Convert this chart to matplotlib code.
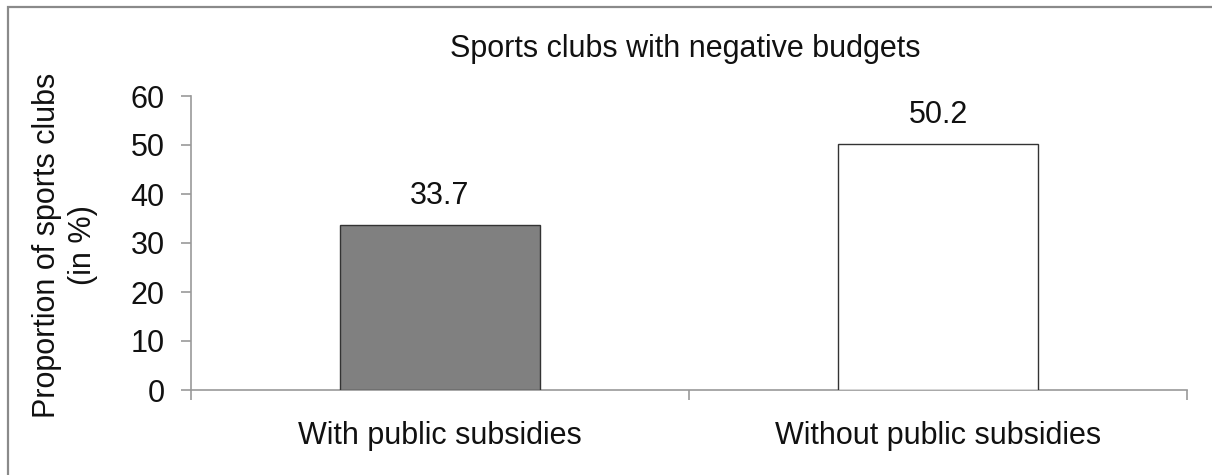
import matplotlib
matplotlib.use("Agg")
import matplotlib.pyplot as plt
from matplotlib.patches import Rectangle
from matplotlib.ticker import FixedLocator

categories = ["With public subsidies", "Without public subsidies"]
values = [33.7, 50.2]
bar_colors = ["#808080", "#ffffff"]
title = "Sports clubs with negative budgets"
ylabel = "Proportion of sports clubs\n(in %)"
yticks = [0, 10, 20, 30, 40, 50, 60]

plt.rcParams["font.family"] = ["Liberation Sans", "DejaVu Sans"]
FS = 22

W, H = 1212, 475
fig = plt.figure(figsize=(W / 100, H / 100), dpi=100)

# frame around the whole chart, running off the right and bottom edges
fig.patches.append(Rectangle((8 / W, -0.1), 1.2, 1 - 7 / H + 0.1,
                             transform=fig.transFigure, fill=False,
                             edgecolor="#8a8a8a", linewidth=1.6))

ax = fig.add_axes([191 / W, 1 - 390 / H, (1187 - 191) / W, (390 - 96) / H])
x = list(range(len(categories)))
ax.bar(x, values, width=0.4, color=bar_colors, edgecolor="#333333", linewidth=1.0, zorder=3)

for xi, v in zip(x, values):
    ax.annotate(f"{v:.1f}", (xi, v), xytext=(0, 10), textcoords="offset points",
                ha="center", va="bottom", fontsize=FS, color="#111111")

ax.set_xlim(-0.5, len(categories) - 0.5)
ax.set_ylim(0, 60)
ax.set_yticks(yticks)
ax.set_xticks(x)
ax.set_xticklabels(categories, fontsize=FS)
ax.xaxis.set_major_locator(FixedLocator(x))
ax.xaxis.set_minor_locator(FixedLocator([-0.5 + i for i in range(len(categories) + 1)]))
ax.tick_params(axis="x", which="major", length=0, pad=22, labelsize=FS, colors="#111111")
ax.tick_params(axis="x", which="minor", length=7, width=1.2, color="#999999")
ax.tick_params(axis="y", length=7, width=1.2, color="#999999", labelsize=FS,
               labelcolor="#111111", pad=12)

for side in ["top", "right"]:
    ax.spines[side].set_visible(False)
for side in ["left", "bottom"]:
    ax.spines[side].set_color("#999999")
    ax.spines[side].set_linewidth(1.2)

fig.text(65 / W, 1 - 245 / H, ylabel, rotation=90, ha="center", va="center",
         multialignment="center", fontsize=FS, color="#111111", linespacing=1.3)
fig.text(685 / W, 1 - 49 / H, title, ha="center", va="center",
         fontsize=FS, color="#111111")

fig.savefig("out.png", dpi=100)
